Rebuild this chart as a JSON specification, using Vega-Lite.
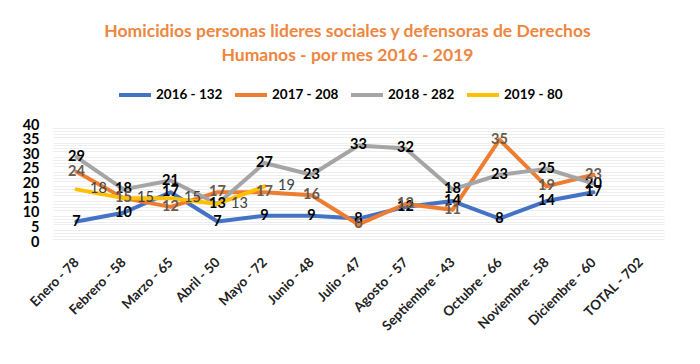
{
  "$schema": "https://vega.github.io/schema/vega-lite/v6.json",
  "width": 611,
  "height": 117,
  "autosize": "none",
  "padding": {"left": 53, "top": 125, "right": 36, "bottom": 122},
  "background": "white",
  "config": {"font": "Lato", "view": {"stroke": null}},
  "title": {
    "text": ["Homicidios personas lideres sociales y defensoras de Derechos", "Humanos - por mes 2016 - 2019"],
    "color": "#EE8640",
    "fontSize": 17.5,
    "fontWeight": "bold",
    "anchor": "middle",
    "dx": -11,
    "lineHeight": 24,
    "offset": 13
  },
  "data": {
    "values": [
      {"mes": "Enero - 78", "serie": "2016 - 132", "valor": 7},
      {"mes": "Febrero - 58", "serie": "2016 - 132", "valor": 10},
      {"mes": "Marzo - 65", "serie": "2016 - 132", "valor": 17},
      {"mes": "Abril - 50", "serie": "2016 - 132", "valor": 7},
      {"mes": "Mayo - 72", "serie": "2016 - 132", "valor": 9},
      {"mes": "Junio - 48", "serie": "2016 - 132", "valor": 9},
      {"mes": "Julio - 47", "serie": "2016 - 132", "valor": 8},
      {"mes": "Agosto - 57", "serie": "2016 - 132", "valor": 12},
      {"mes": "Septiembre - 43", "serie": "2016 - 132", "valor": 14},
      {"mes": "Octubre - 66", "serie": "2016 - 132", "valor": 8},
      {"mes": "Noviembre - 58", "serie": "2016 - 132", "valor": 14},
      {"mes": "Diciembre - 60", "serie": "2016 - 132", "valor": 17},
      {"mes": "Enero - 78", "serie": "2017 - 208", "valor": 24},
      {"mes": "Febrero - 58", "serie": "2017 - 208", "valor": 15},
      {"mes": "Marzo - 65", "serie": "2017 - 208", "valor": 12},
      {"mes": "Abril - 50", "serie": "2017 - 208", "valor": 17},
      {"mes": "Mayo - 72", "serie": "2017 - 208", "valor": 17},
      {"mes": "Junio - 48", "serie": "2017 - 208", "valor": 16},
      {"mes": "Julio - 47", "serie": "2017 - 208", "valor": 6},
      {"mes": "Agosto - 57", "serie": "2017 - 208", "valor": 13},
      {"mes": "Septiembre - 43", "serie": "2017 - 208", "valor": 11},
      {"mes": "Octubre - 66", "serie": "2017 - 208", "valor": 35},
      {"mes": "Noviembre - 58", "serie": "2017 - 208", "valor": 19},
      {"mes": "Diciembre - 60", "serie": "2017 - 208", "valor": 23},
      {"mes": "Enero - 78", "serie": "2018 - 282", "valor": 29},
      {"mes": "Febrero - 58", "serie": "2018 - 282", "valor": 18},
      {"mes": "Marzo - 65", "serie": "2018 - 282", "valor": 21},
      {"mes": "Abril - 50", "serie": "2018 - 282", "valor": 13},
      {"mes": "Mayo - 72", "serie": "2018 - 282", "valor": 27},
      {"mes": "Junio - 48", "serie": "2018 - 282", "valor": 23},
      {"mes": "Julio - 47", "serie": "2018 - 282", "valor": 33},
      {"mes": "Agosto - 57", "serie": "2018 - 282", "valor": 32},
      {"mes": "Septiembre - 43", "serie": "2018 - 282", "valor": 18},
      {"mes": "Octubre - 66", "serie": "2018 - 282", "valor": 23},
      {"mes": "Noviembre - 58", "serie": "2018 - 282", "valor": 25},
      {"mes": "Diciembre - 60", "serie": "2018 - 282", "valor": 20},
      {"mes": "Enero - 78", "serie": "2019 - 80", "valor": 18},
      {"mes": "Febrero - 58", "serie": "2019 - 80", "valor": 15},
      {"mes": "Marzo - 65", "serie": "2019 - 80", "valor": 15},
      {"mes": "Abril - 50", "serie": "2019 - 80", "valor": 13},
      {"mes": "Mayo - 72", "serie": "2019 - 80", "valor": 19}
    ]
  },
  "encoding": {
    "x": {
      "field": "mes",
      "type": "nominal",
      "scale": {
        "type": "point",
        "padding": 0.5,
        "domain": ["Enero - 78", "Febrero - 58", "Marzo - 65", "Abril - 50", "Mayo - 72", "Junio - 48", "Julio - 47", "Agosto - 57", "Septiembre - 43", "Octubre - 66", "Noviembre - 58", "Diciembre - 60", "TOTAL - 702"]
      },
      "axis": {
        "title": null,
        "labelAngle": -45,
        "labelAlign": "right",
        "labelBaseline": "middle",
        "labelFontWeight": "bold",
        "labelFontSize": 13.5,
        "labelColor": "#222222",
        "ticks": false,
        "domain": false,
        "grid": false,
        "labelPadding": 18
      }
    },
    "y": {
      "field": "valor",
      "type": "quantitative",
      "scale": {"domain": [0, 40]}
    }
  },
  "resolve": {"axis": {"y": "independent"}},
  "layer": [
    {
      "mark": {"type": "line", "strokeJoin": "round", "strokeCap": "round"},
      "encoding": {
        "y": {
          "field": "valor",
          "type": "quantitative",
          "scale": {"domain": [0, 40]},
          "axis": {
            "orient": "right",
            "values": [1, 2, 3, 4, 6, 7, 8, 9, 11, 12, 13, 14, 16, 17, 18, 19, 21, 22, 23, 24, 26, 27, 28, 29, 31, 32, 33, 34, 36, 37, 38, 39],
            "labels": false,
            "ticks": false,
            "domain": false,
            "title": null,
            "gridColor": "#eeeeee"
          }
        },
        "color": {
          "field": "serie",
          "type": "nominal",
          "scale": {
            "domain": ["2016 - 132", "2017 - 208", "2018 - 282", "2019 - 80"],
            "range": ["#4472C4", "#ED7D31", "#A5A5A5", "#FFC000"]
          },
          "legend": {
            "orient": "none",
            "legendX": 64,
            "legendY": -48,
            "direction": "horizontal",
            "title": null,
            "symbolType": "stroke",
            "symbolSize": 1024,
            "symbolStrokeWidth": 4,
            "labelFontSize": 13.5,
            "labelFontWeight": "bold",
            "labelColor": "#000000",
            "columnPadding": 4,
            "labelOffset": 3
          }
        },
        "strokeWidth": {
          "field": "serie",
          "type": "nominal",
          "scale": {
            "domain": ["2016 - 132", "2017 - 208", "2018 - 282", "2019 - 80"],
            "range": [4, 4, 4, 2]
          },
          "legend": null
        }
      }
    },
    {
      "transform": [{"filter": "datum.serie === '2016 - 132' || datum.serie === '2018 - 282'"}],
      "mark": {"type": "text", "fontSize": 14.5, "fontWeight": "bold", "color": "#000000", "baseline": "middle", "align": "center"},
      "encoding": {
        "y": {
          "field": "valor",
          "type": "quantitative",
          "scale": {"domain": [0, 40]},
          "axis": {
            "orient": "left",
            "values": [0, 5, 10, 15, 20, 25, 30, 35, 40],
            "labelFontWeight": "bold",
            "labelFontSize": 14.5,
            "labelColor": "#000000",
            "labelPadding": 14,
            "domain": false,
            "ticks": false,
            "title": null,
            "gridColor": "#d6d6d6"
          }
        },
        "text": {"field": "valor", "type": "quantitative"}
      }
    },
    {
      "transform": [{"filter": "datum.serie === '2017 - 208'"}],
      "mark": {"type": "text", "fontSize": 14.5, "fontWeight": "bold", "color": "#6b5a4e", "baseline": "middle", "align": "center"},
      "encoding": {
        "y": {"field": "valor", "type": "quantitative", "axis": null},
        "text": {"field": "valor", "type": "quantitative"}
      }
    },
    {
      "transform": [{"filter": "datum.serie === '2019 - 80'"}],
      "mark": {"type": "text", "fontSize": 14.5, "color": "#404040", "baseline": "middle", "align": "center", "dx": 22},
      "encoding": {
        "y": {"field": "valor", "type": "quantitative", "axis": null},
        "text": {"field": "valor", "type": "quantitative"}
      }
    }
  ]
}
